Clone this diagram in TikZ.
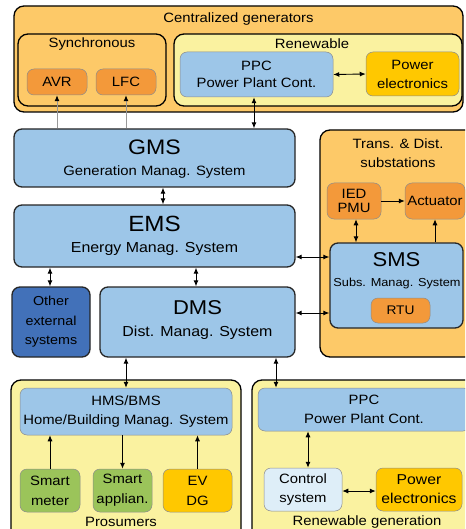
\documentclass[tikz,border=0pt]{standalone}
\usepackage{fontspec}
\setmainfont{Liberation Sans}[FakeStretch=1.1]
\usetikzlibrary{arrows.meta}
\definecolor{contOrange}{RGB}{253,201,104}
\definecolor{contYellow}{RGB}{250,242,160}
\definecolor{nodeBlue}{RGB}{157,198,232}
\definecolor{nodeOrange}{RGB}{243,153,58}
\definecolor{nodeYellow}{RGB}{255,200,0}
\definecolor{nodeGreen}{RGB}{155,196,90}
\definecolor{darkBlue}{RGB}{66,113,185}
\definecolor{paleBlue}{RGB}{222,238,248}
\begin{document}
\begin{tikzpicture}[x=1pt,y=-1pt,
 container/.style={draw=black, line width=1.3pt, rounded corners=10pt, inner sep=0pt},
 mainbox/.style={draw=black!85, line width=1.3pt, fill=nodeBlue, rounded corners=8pt, inner sep=0pt},
 smallbox/.style={draw=black!45, line width=0.5pt, rounded corners=7pt, inner sep=0pt, align=center, font=\fontsize{13.5}{19}\selectfont},
 lbl/.style={inner sep=0pt, align=center, font=\fontsize{13.5}{19}\selectfont},
 big/.style={inner sep=0pt, font=\fontsize{21}{24}\selectfont},
 sub/.style={inner sep=0pt, font=\fontsize{13.5}{16}\selectfont},
 tip/.style={},
 arr/.style={line width=0.9pt, -{Latex[length=6pt,width=5pt]}},
 dbl/.style={line width=0.9pt, {Latex[length=6pt,width=5pt]}-{Latex[length=6pt,width=5pt]}},
 garr/.style={draw=black!40, line width=0.9pt, -{Latex[length=6pt,width=5pt,color=black]}}]
\useasboundingbox (0,0) rectangle (465,529);
\fill[white] (0,0) rectangle (465,529);
\clip (0,0) rectangle (465,529);

% ---- containers
\node[container, fill=contOrange, minimum width=449pt, minimum height=106pt] (cent) at (238.5,59) {};
\node[lbl] (centL) at (238.5,19) {Centralized generators};
\node[container, fill=contOrange, minimum width=148pt, minimum height=72pt] (sync) at (92,70) {};
\node[lbl] (syncL) at (92,44) {Synchronous};
\node[container, fill=contYellow, minimum width=288pt, minimum height=72pt] (renew) at (318,70) {};
\node[lbl] (renewL) at (312,44) {Renewable};
\node[container, fill=contOrange, minimum width=158pt, minimum height=227pt] (trans) at (399,243.5) {};
\node[lbl] (transL) at (398,153.5) {Trans. \& Dist.\\substations};
\node[container, fill=contYellow, minimum width=230pt, minimum height=165pt] (pros) at (126,462.5) {};
\node[lbl] (prosL) at (121,522) {Prosumers};
\node[container, fill=contYellow, minimum width=233pt, minimum height=165pt] (rgen) at (368.5,462.5) {};
\node[lbl] (rgenL) at (367,522) {Renewable generation};

% ---- centralized generators
\node[smallbox, fill=nodeOrange, minimum width=60pt, minimum height=26pt] (avr) at (57,82) {AVR};
\node[smallbox, fill=nodeOrange, minimum width=60pt, minimum height=26pt] (lfc) at (126,82) {LFC};
\node[smallbox, fill=nodeBlue, minimum width=153pt, minimum height=45pt, font=\fontsize{13.5}{17}\selectfont] (ppca) at (256.5,74.5) {PPC\\Power Plant Cont.};
\node[smallbox, fill=nodeYellow, minimum width=93pt, minimum height=44pt] (pea) at (412.5,74) {Power\\electronics};

% ---- management systems
\node[mainbox, minimum width=281pt, minimum height=58pt] (gms) at (154.5,158) {};
\node[big] (gmsA) at (154.5,147) {GMS};
\node[sub] (gmsB) at (154.5,172) {Generation Manag. System};
\node[mainbox, minimum width=281pt, minimum height=62pt] (ems) at (154.5,236) {};
\node[big, font=\fontsize{22}{24}\selectfont] (emsA) at (154.5,224) {EMS};
\node[sub, font=\fontsize{14.5}{16}\selectfont] (emsB) at (154.5,249) {Energy Manag. System};
\node[mainbox, fill=darkBlue, minimum width=78pt, minimum height=70pt, align=center, font=\fontsize{13}{19.5}\selectfont] (other) at (51,322) {Other\\external\\systems};
\node[mainbox, minimum width=195pt, minimum height=70pt] (dms) at (197.5,322) {};
\node[big, font=\fontsize{20}{24}\selectfont] (dmsA) at (197.5,308) {DMS};
\node[sub, font=\fontsize{14.5}{16}\selectfont] (dmsB) at (197.5,333) {Dist. Manag. System};

% ---- substations
\node[smallbox, fill=nodeOrange, minimum width=54pt, minimum height=36pt, font=\fontsize{13.5}{14}\selectfont] (ied) at (354,201) {IED\\PMU};
\node[smallbox, fill=nodeOrange, minimum width=60pt, minimum height=36pt] (act) at (435,201) {Actuator};
\node[mainbox, minimum width=133pt, minimum height=85pt] (sms) at (396.5,285.5) {};
\node[big, font=\fontsize{20}{24}\selectfont] (smsA) at (396.5,260) {SMS};
\node[sub, font=\fontsize{11.6}{14}\selectfont] (smsB) at (397,283) {Subs. Manag. System};
\node[smallbox, fill=nodeOrange, minimum width=59pt, minimum height=25pt, font=\fontsize{12.5}{14}\selectfont] (rtu) at (400.5,310.5) {RTU};

% ---- prosumers
\node[smallbox, fill=nodeBlue, minimum width=212pt, minimum height=47pt] (hms) at (126,411.5) {HMS/BMS\\Home/Building Manag. System};
\node[smallbox, fill=nodeGreen, minimum width=60pt, minimum height=43pt, font=\fontsize{13.5}{20}\selectfont] (sm) at (50,490.5) {Smart\\meter};
\node[smallbox, fill=nodeGreen, minimum width=59pt, minimum height=43pt, font=\fontsize{13.5}{20}\selectfont] (sa) at (122.5,490.5) {Smart\\applian.};
\node[smallbox, fill=nodeYellow, minimum width=69pt, minimum height=43pt, font=\fontsize{13.5}{20}\selectfont] (ev) at (197.5,490.5) {EV\\DG};

% ---- renewable generation
\node[smallbox, fill=nodeBlue, minimum width=212pt, minimum height=43pt] (ppcb) at (364,409.5) {PPC\\Power Plant Cont.};
\node[smallbox, fill=paleBlue, minimum width=78pt, minimum height=43pt] (ctrl) at (303,489.5) {Control\\system};
\node[smallbox, fill=nodeYellow, minimum width=86pt, minimum height=43pt, font=\fontsize{14.3}{19}\selectfont] (peb) at (419,489.5) {Power\\electronics};

% ---- connectors
\draw[garr] (avr.south |- gms.north) -- (avr.south);
\draw[garr] (lfc.south |- gms.north) -- (lfc.south);
\draw[dbl] ([xshift=-2.5pt]ppca.south) -- ([xshift=-2.5pt]ppca.south |- gms.north);
\draw[dbl] (ppca.east) -- (pea.west);
\draw[dbl] ([xshift=8.5pt]gms.south) -- ([xshift=8.5pt]ems.north);
\draw[dbl] ([yshift=-21pt]ems.east) -- ([yshift=-21pt]ems.east -| sms.west);
\draw[arr] (ied.east) -- (act.west);
\draw[dbl] ([xshift=2pt]ied.south) -- ([xshift=2pt]ied.south |- sms.north);
\draw[arr] (act.south |- sms.north) -- (act.south);
\draw[dbl] ([xshift=-1pt]other.north |- ems.south) -- ([xshift=-1pt]other.north);
\draw[dbl] ([xshift=-1.5pt]dms.north |- ems.south) -- ([xshift=-1.5pt]dms.north);
\draw[dbl] ([yshift=9pt]dms.east) -- ([yshift=9pt]dms.east -| sms.west);
\draw[dbl] (hms.north |- dms.south) -- (hms.north);
\draw[dbl] ([xshift=-88pt]ppcb.north |- dms.south) -- ([xshift=-88pt]ppcb.north);
\draw[arr] (sm.north) -- (sm.north |- hms.south);
\draw[arr] (sa.north |- hms.south) -- (sa.north);
\draw[arr] (ev.north) -- (ev.north |- hms.south);
\draw[dbl] ([xshift=5pt]ctrl.north) -- ([xshift=5pt]ctrl.north |- ppcb.south);
\draw[dbl] ([yshift=-1.5pt]ctrl.east) -- ([yshift=-1.5pt]ctrl.east -| peb.west);
\end{tikzpicture}
\end{document}
